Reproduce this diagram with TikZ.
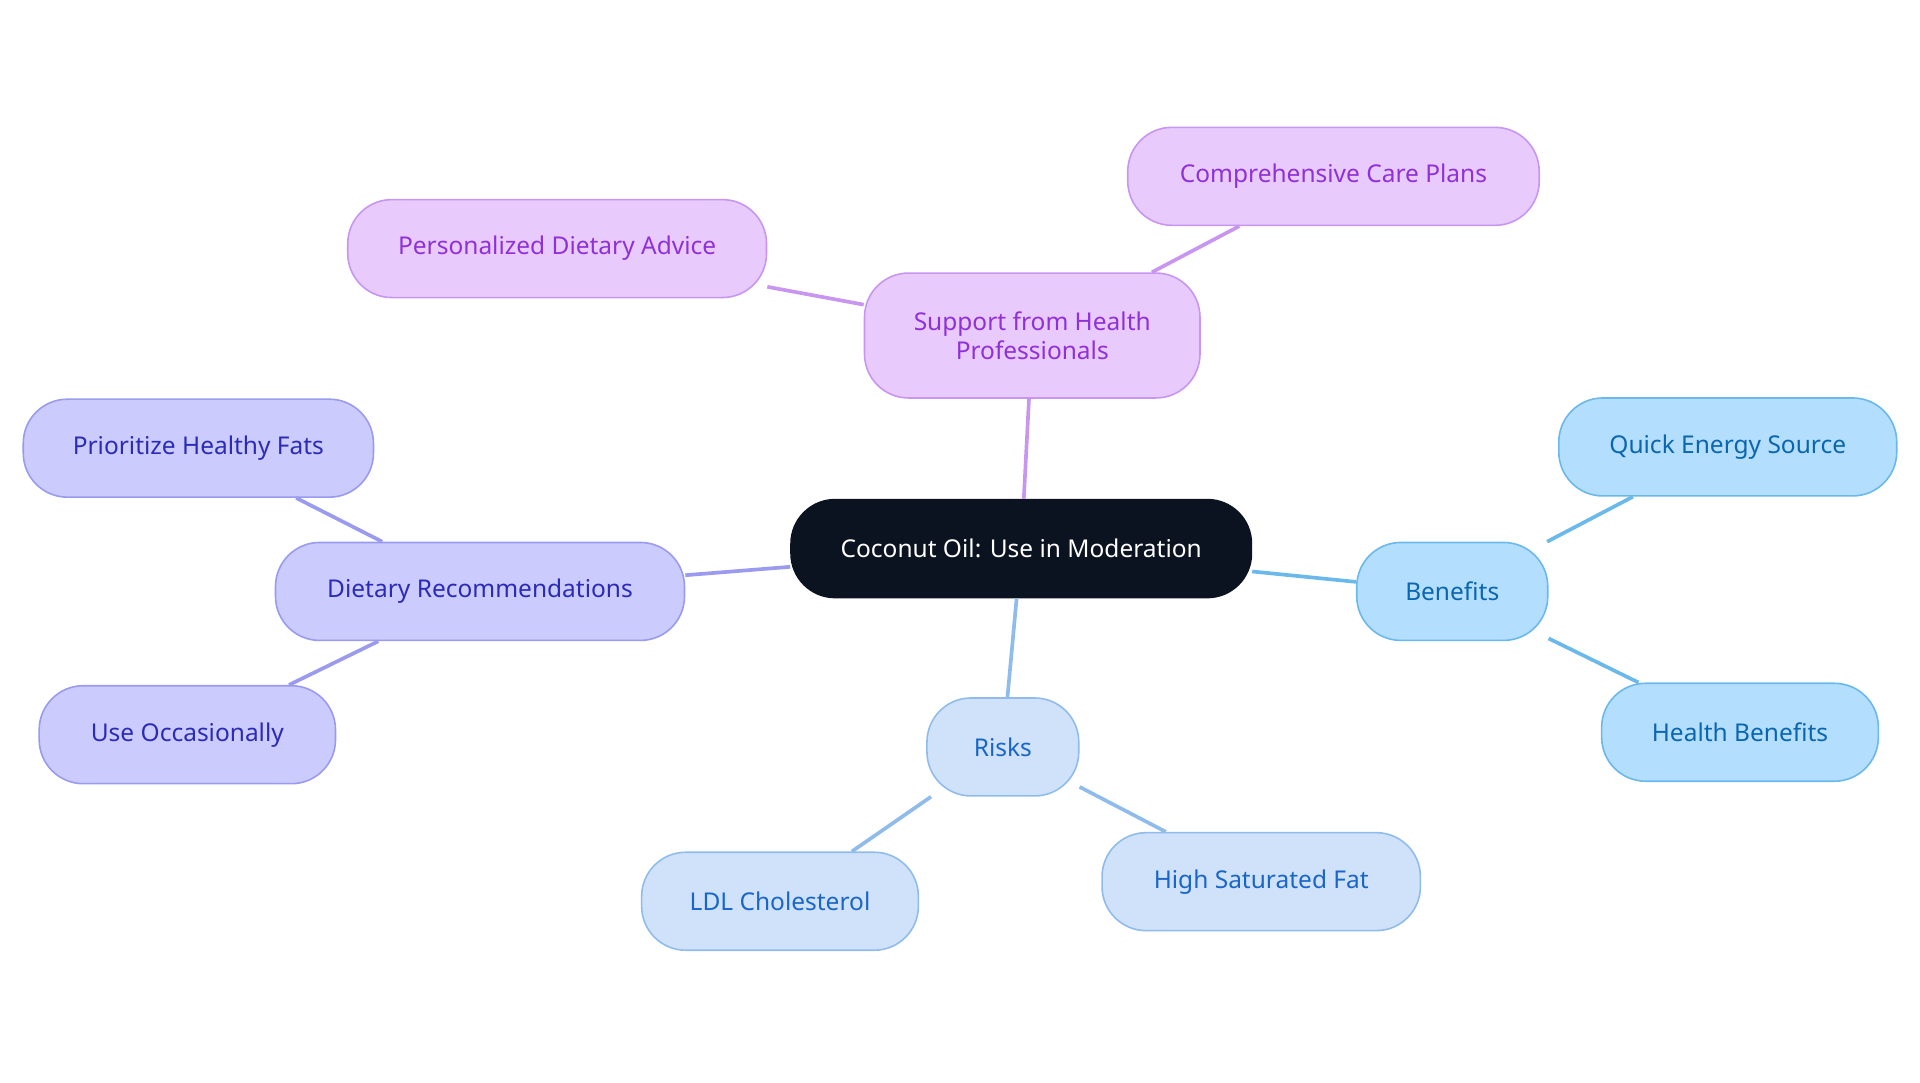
\documentclass[tikz,border=0pt]{standalone}
\usepackage{fontspec}
\setmainfont{Noto Sans}
\definecolor{pf}{HTML}{E8CAFD}\definecolor{ps}{HTML}{C896F0}\definecolor{pt}{HTML}{9030D8}
\definecolor{vf}{HTML}{CBCBFD}\definecolor{vs}{HTML}{9A9AF0}\definecolor{vt}{HTML}{2B2BB8}
\definecolor{bf}{HTML}{B3DEFD}\definecolor{bs}{HTML}{6BB8EB}\definecolor{bt}{HTML}{0B66B0}
\definecolor{rf}{HTML}{CFE2FA}\definecolor{rs}{HTML}{90BCEC}\definecolor{rt}{HTML}{1A66C8}
\definecolor{cf}{HTML}{0B1220}
\begin{document}
\begin{tikzpicture}[x=1pt,y=-1pt,
 n/.style={draw,line width=1.3pt,rounded corners=36pt,minimum height=80pt,align=center,
   font=\fontsize{20}{24}\selectfont,inner sep=0pt},
 P/.style={n,fill=pf,draw=ps,text=pt},
 V/.style={n,fill=vf,draw=vs,text=vt},
 B/.style={n,fill=bf,draw=bs,text=bt},
 R/.style={n,fill=rf,draw=rs,text=rt},
 e/.style={line width=3pt}]
\useasboundingbox (0,0) rectangle (1568,884);
\node[n,fill=cf,draw=cf,text=white,minimum width=376pt] (c) at (834,448) {Coconut Oil: Use in Moderation};
\node[P,minimum width=274pt,minimum height=102pt] (s) at (843,274) {Support from Health\\Professionals};
\node[P,minimum width=342pt] (s1) at (455,203) {Personalized Dietary Advice};
\node[P,minimum width=336pt] (s2) at (1089,144) {Comprehensive Care Plans};
\node[V,minimum width=334pt] (d) at (392,483) {Dietary Recommendations};
\node[V,minimum width=286pt] (d1) at (162,366) {Prioritize Healthy Fats};
\node[V,minimum width=242pt] (d2) at (153,600) {Use Occasionally};
\node[B,minimum width=156pt] (b) at (1186,483) {Benefits};
\node[B,minimum width=276pt] (b1) at (1411,365) {Quick Energy Source};
\node[B,minimum width=226pt] (b2) at (1421,598) {Health Benefits};
\node[R,minimum width=124pt] (r) at (819,610) {Risks};
\node[R,minimum width=226pt] (r1) at (637,736) {LDL Cholesterol};
\node[R,minimum width=260pt] (r2) at (1030,720) {High Saturated Fat};
\draw[e,ps] (c) -- (s); \draw[e,ps] (s) -- (s1); \draw[e,ps] (s) -- (s2);
\draw[e,vs] (c) -- (d); \draw[e,vs] (d) -- (d1); \draw[e,vs] (d) -- (d2);
\draw[e,bs] (c) -- (b); \draw[e,bs] (b) -- (b1); \draw[e,bs] (b) -- (b2);
\draw[e,rs] (c) -- (r); \draw[e,rs] (r) -- (r1); \draw[e,rs] (r) -- (r2);
\end{tikzpicture}
\end{document}
